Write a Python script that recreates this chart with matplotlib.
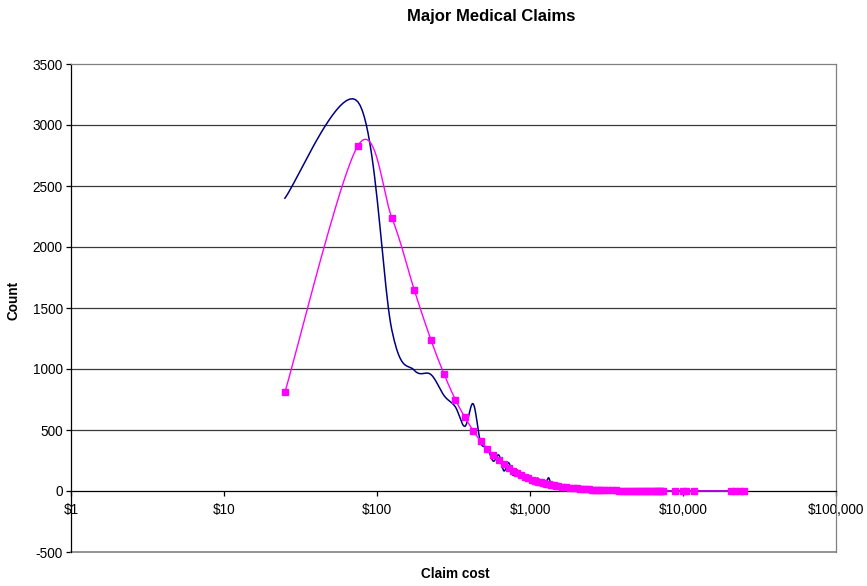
import numpy as np
import matplotlib
matplotlib.use("Agg")
import matplotlib.pyplot as plt
from matplotlib.ticker import FixedLocator, FixedFormatter

plt.rcParams['font.family'] = ['Liberation Sans', 'DejaVu Sans']
plt.rcParams['axes.unicode_minus'] = False

# Claim cost bins (midpoints, dollars)
claim_cost = [
    25, 75, 125, 175, 225, 275, 325, 375, 425, 475, 525, 575, 625, 675, 725,
    775, 825, 875, 925, 975, 1025, 1075, 1125, 1175, 1225, 1275, 1325, 1375,
    1425, 1475, 1525,
    1625, 1725, 1825, 1925, 2025, 2125, 2225, 2325, 2425, 2525, 2625, 2725,
    2825, 2925, 3025,
    3225, 3425, 3625, 3825, 4025, 4225, 4425, 4625, 4825, 5025, 5225, 5425,
    5625, 5825, 6025, 6225, 6425, 6625, 6825, 7025, 7225, 7425,
    8925, 10025, 10525, 11825, 20625, 22025, 23525, 24975,
]

# Observed claim counts
observed = [
    2400, 3190, 1320, 990, 955, 780, 690, 530, 715, 400, 355, 245, 295, 165, 232,
    128, 172, 115, 105, 88, 80, 95, 105, 78, 62, 75, 108, 50,
    44, 42, 38,
    36, 30, 28, 23, 21, 18, 17, 14, 14, 11, 11, 9,
    9, 7, 8,
    6, 6, 4, 4, 3, 3, 2, 3, 2, 1, 2, 1,
    1, 1, 0, 1, 1, 0, 1, 0, 1, 1,
    1, 0, 1, 0, 1, 0, 1, 1,
]

# Fitted claim counts
fitted = [
    808, 2830, 2240, 1650, 1240, 955, 750, 605, 495, 410, 345, 295, 252, 218, 190,
    166, 147, 130, 116, 104, 94, 85, 77, 70, 64, 59, 54, 50,
    46, 43, 40,
    35, 31, 27, 24, 21, 19, 17, 15, 14, 12, 11, 10,
    9, 8, 8,
    7, 6, 5, 4, 4, 3, 3, 3, 2, 2, 2, 2,
    1, 1, 1, 1, 1, 1, 1, 1, 1, 0,
    0, 0, 0, 0, 0, 0, 0, 0,
]

x_ticks = [1, 10, 100, 1000, 10000, 100000]
x_tick_labels = ["$1", "$10", "$100", "$1,000", "$10,000", "$100,000"]
y_ticks = [-500, 0, 500, 1000, 1500, 2000, 2500, 3000, 3500]


def smooth_line(xs, ys, n=24):
    """Bezier-smoothed polyline through the points, built in log-x space."""
    u = np.log10(np.asarray(xs, dtype=float))
    v = np.asarray(ys, dtype=float)
    pts = np.column_stack([u, v])
    out = []
    t = np.linspace(0.0, 1.0, n)[:, None]
    m = len(pts)
    for i in range(m - 1):
        p0 = pts[i - 1] if i > 0 else pts[i]
        p1 = pts[i]
        p2 = pts[i + 1]
        p3 = pts[i + 2] if i + 2 < m else pts[i + 1]
        c1 = p1 + (p2 - p0) / 6.0
        c2 = p2 - (p3 - p1) / 6.0
        seg = ((1 - t) ** 3) * p1 + 3 * ((1 - t) ** 2) * t * c1 \
            + 3 * (1 - t) * (t ** 2) * c2 + (t ** 3) * p2
        out.append(seg if i == 0 else seg[1:])
    curve = np.vstack(out)
    return 10 ** curve[:, 0], curve[:, 1]


W, H = 867, 586
fig = plt.figure(figsize=(W / 100, H / 100), dpi=100)
left, right, top, bottom = 71, 836, 64, 552
ax = fig.add_axes([left / W, 1 - bottom / H, (right - left) / W, (bottom - top) / H])

ax.set_xscale('log')
ax.set_xlim(1, 100000)
ax.set_ylim(-500, 3500)

# Horizontal gridlines
for yv in [500, 1000, 1500, 2000, 2500, 3000]:
    ax.axhline(yv, color='#3a3a3a', lw=0.9, zorder=1)

sx, sy = smooth_line(claim_cost, observed)
ax.plot(sx, sy, color='#000080', lw=1.1, zorder=3)

fx, fy = smooth_line(claim_cost, fitted)
ax.plot(fx, fy, color='#FF00FF', lw=1.0, zorder=4)
ax.plot(claim_cost, fitted, linestyle='none', marker='s', markersize=3.8,
        markerfacecolor='#FF00FF', markeredgecolor='#FF00FF', zorder=5)

# Axes frame: gray plot-area border, black axis lines
ax.spines['top'].set_color('#808080')
ax.spines['right'].set_color('#808080')
ax.spines['left'].set_color('black')
ax.spines['bottom'].set_position(('data', 0))
ax.spines['bottom'].set_color('black')
for s in ax.spines.values():
    s.set_linewidth(0.9)
ax.axhline(-500, color='#808080', lw=1.2, zorder=2, clip_on=False)

ax.xaxis.set_major_locator(FixedLocator(x_ticks))
ax.xaxis.set_major_formatter(FixedFormatter(x_tick_labels))
ax.xaxis.set_minor_locator(FixedLocator([]))
ax.set_yticks(y_ticks)
ax.set_yticklabels([str(v) for v in y_ticks])

ax.tick_params(axis='x', direction='out', length=3.5, width=0.9, pad=5,
               labelsize=9.8, colors='black')
ax.tick_params(axis='y', direction='out', length=3.5, width=0.9, pad=2.5,
               labelsize=9.8, colors='black')

fig.text(491 / W, 1 - 17 / H, 'Major Medical Claims', ha='center', va='center',
         fontsize=12, fontweight='bold')
fig.text(455 / W, 1 - 574 / H, 'Claim cost', ha='center', va='center',
         fontsize=9.8, fontweight='bold')
fig.text(14 / W, 1 - 300 / H, 'Count', ha='center', va='center',
         fontsize=9.8, fontweight='bold', rotation=90)

fig.savefig('out.png', dpi=100)
